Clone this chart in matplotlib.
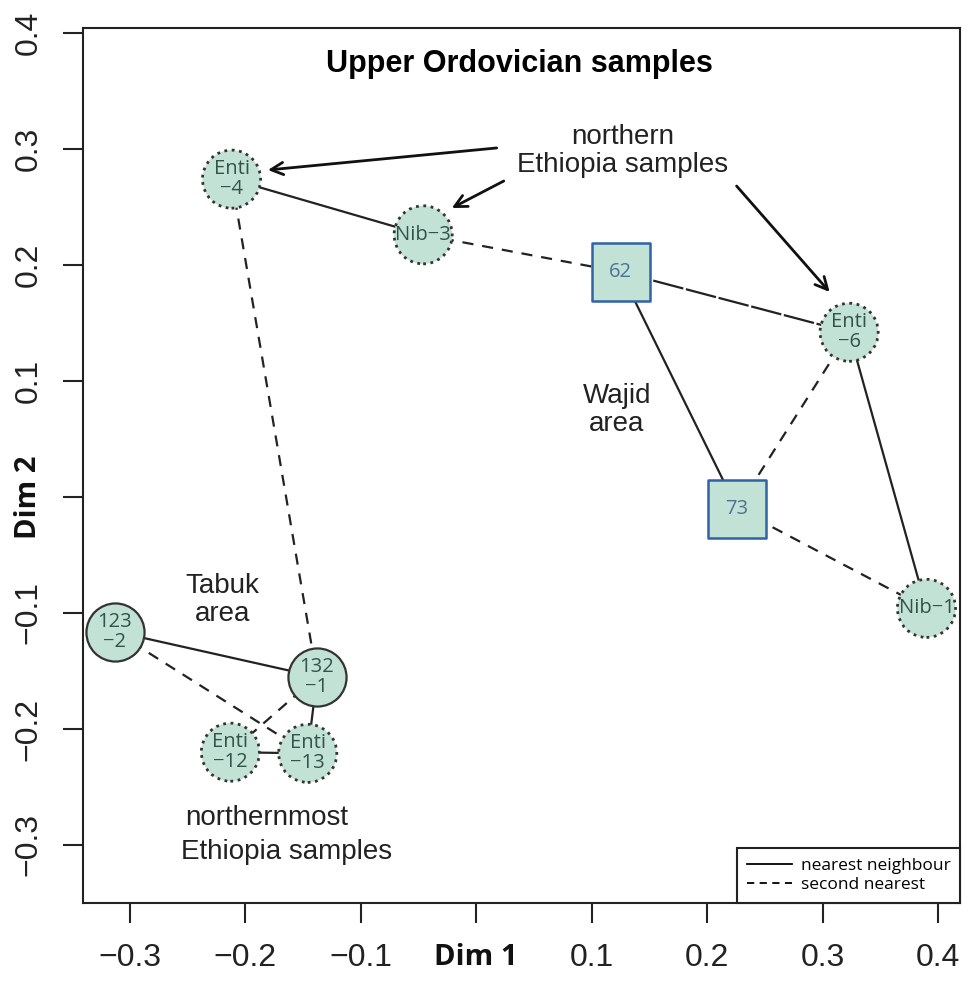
import matplotlib
matplotlib.use("Agg")
import matplotlib.pyplot as plt
from matplotlib.lines import Line2D

# sample positions on the two MDS dimensions
names = ["Enti\n\u22124", "Nib\u22123", "62", "73", "Enti\n\u22126", "Nib\u22121",
         "123\n\u22122", "132\n\u22121", "Enti\n\u221212", "Enti\n\u221213"]
dim1 = [-0.212, -0.046, 0.125, 0.226, 0.323, 0.390, -0.313, -0.138, -0.213, -0.146]
dim2 = [0.274, 0.226, 0.194, -0.010, 0.142, -0.096, -0.116, -0.155, -0.220, -0.221]
kind = ["dot", "dot", "sq", "sq", "dot", "dot", "solid", "solid", "dot", "dot"]

# links between samples
nearest = [(0, 1), (2, 3), (4, 5), (6, 7), (7, 9), (8, 9)]
second = [(0, 7), (1, 2), (3, 4), (3, 5), (6, 9), (7, 8)]
both = [(2, 4)]

xticks = [-0.3, -0.2, -0.1, 0.0, 0.1, 0.2, 0.3, 0.4]
yticks = [-0.3, -0.2, -0.1, 0.0, 0.1, 0.2, 0.3, 0.4]

fill = "#c2e2d5"
sq_edge = "#2f62a6"
sq_text = "#4f7196"
circ_text = "#33524a"

fig = plt.figure(figsize=(9.68, 9.83), dpi=100)
ax = fig.add_axes([0.0857, 0.0814, 0.9060, 0.8901])
ax.set_xlim(-0.3407, 0.419)
ax.set_ylim(-0.35, 0.4043)

for i, j in nearest:
    ax.plot([dim1[i], dim1[j]], [dim2[i], dim2[j]], color="#222222", lw=1.6, zorder=1)
for i, j in second:
    ax.plot([dim1[i], dim1[j]], [dim2[i], dim2[j]], color="#222222", lw=1.6,
            ls=(0, (5, 4)), zorder=1)
for i, j in both:
    ax.plot([dim1[i], dim1[j]], [dim2[i], dim2[j]], color="#222222", lw=1.6,
            ls=(0, (14, 1.2)), zorder=1)

for k in range(len(names)):
    if kind[k] == "sq":
        ax.scatter(dim1[k], dim2[k], s=1750, marker="s", facecolor=fill,
                   edgecolor=sq_edge, linewidth=1.8, zorder=3)
        ax.text(dim1[k], dim2[k], names[k], ha="center", va="center",
                fontsize=14.5, color=sq_text, family="Open Sans", zorder=4)
    else:
        ls = ":" if kind[k] == "dot" else "-"
        lw = 2.0 if kind[k] == "dot" else 1.6
        ax.scatter(dim1[k], dim2[k], s=1750, marker="o", facecolor=fill,
                   edgecolor="#333333", linewidth=lw, linestyle=ls, zorder=3)
        ax.text(dim1[k], dim2[k], names[k], ha="center", va="center",
                fontsize=14.5, color=circ_text, family="Open Sans",
                linespacing=1.0, zorder=4)

ax.text(0.0377, 0.373, "Upper Ordovician samples", ha="center", va="center",
        fontsize=22, fontweight="bold", family="Liberation Sans")

txt = dict(ha="center", va="center", fontsize=20, family="Liberation Sans",
           color="#222222", linespacing=1.1)
ax.text(0.1268, 0.298, "northern\nEthiopia samples", **txt)
ax.text(0.1216, 0.075, "Wajid\narea", **txt)
ax.text(-0.2195, -0.0888, "Tabuk\narea", **txt)
ax.text(-0.1814, -0.2767, "northernmost", **txt)
ax.text(-0.1641, -0.306, "Ethiopia samples", **txt)

arrow = dict(arrowstyle="->", lw=2, color="#111111", mutation_scale=22,
             shrinkA=0, shrinkB=0)
ax.annotate("", xy=(-0.1805, 0.2819), xytext=(0.0177, 0.3009), arrowprops=arrow)
ax.annotate("", xy=(-0.0212, 0.2491), xytext=(0.0238, 0.2724), arrowprops=arrow)
ax.annotate("", xy=(0.3061, 0.1767), xytext=(0.2255, 0.2681), arrowprops=arrow)

# R-style axes: outward ticks, axis names sit where the zero labels would be
ax.set_xticks(xticks)
ax.set_yticks(yticks)
ax.set_xticklabels(["\u22120.3", "\u22120.2", "\u22120.1", "Dim 1", "0.1", "0.2", "0.3", "0.4"])
ax.set_yticklabels(["\u22120.3", "\u22120.2", "\u22120.1", "Dim 2", "0.1", "0.2", "0.3", "0.4"],
                   rotation=90, va="center")
ax.tick_params(axis="both", direction="out", length=14.5, width=1.5,
               labelsize=23, color="#222222")
ax.tick_params(axis="x", pad=14)
ax.tick_params(axis="y", pad=14)
for lab in ax.get_xticklabels() + ax.get_yticklabels():
    lab.set_family("Liberation Sans")
    lab.set_color("#222222")
for lab in (ax.get_xticklabels()[3], ax.get_yticklabels()[3]):
    lab.set_family("Open Sans")
    lab.set_fontweight("bold")
    lab.set_fontsize(21)
    lab.set_color("#111111")
for sp in ax.spines.values():
    sp.set_linewidth(1.5)
    sp.set_color("#222222")

handles = [Line2D([], [], color="black", lw=1.3),
           Line2D([], [], color="black", lw=1.3, ls=(0, (4, 3)))]
leg = ax.legend(handles, ["nearest neighbour", "second nearest"], loc="lower right",
                borderaxespad=0, fancybox=False, edgecolor="#222222", framealpha=1,
                prop={"family": "Open Sans", "size": 12.5}, handlelength=2.6,
                handletextpad=0.5, labelspacing=0.2, borderpad=0.55)
leg.get_frame().set_linewidth(1.5)

fig.savefig("out.png", dpi=100)
